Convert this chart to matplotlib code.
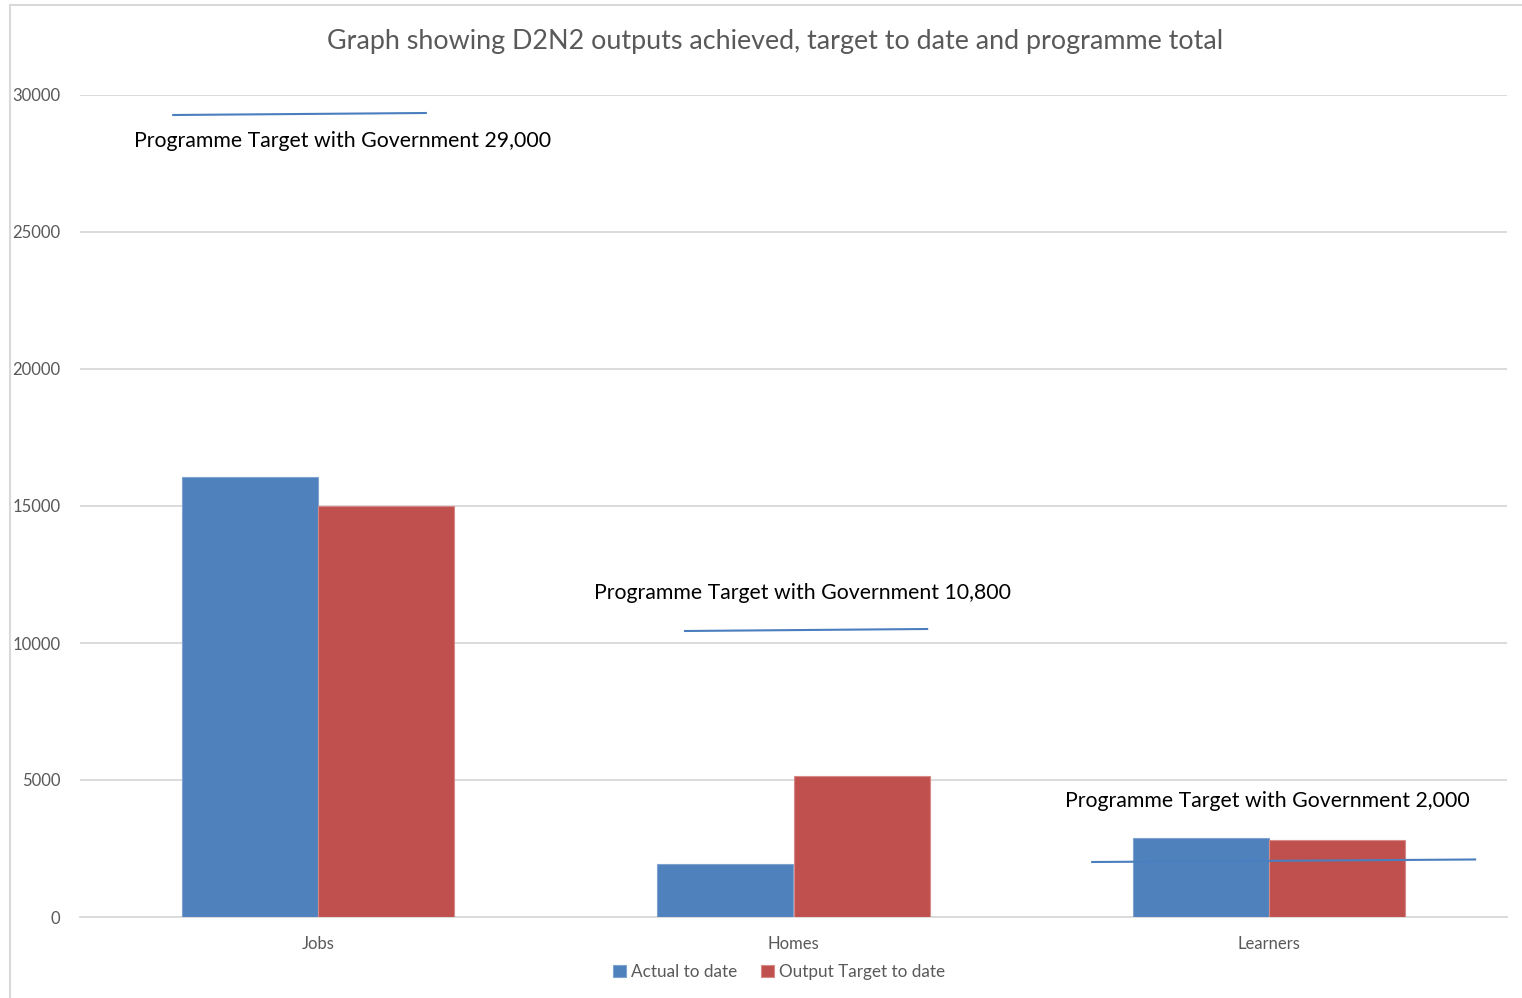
import matplotlib
matplotlib.use("Agg")
import matplotlib.pyplot as plt
from matplotlib.patches import Rectangle
import numpy as np

categories = ["Jobs", "Homes", "Learners"]
actual_to_date = [16050, 1950, 2870]
output_target_to_date = [15000, 5150, 2820]
programme_targets = [29000, 10800, 2000]
target_labels = ["Programme Target with Government 29,000",
                 "Programme Target with Government 10,800",
                 "Programme Target with Government 2,000"]
# drawn target lines (as placed on the chart): start/end values, x offsets from category centre
target_line_y = [(29270, 29343), (10438, 10511), (2007, 2099)]
target_line_dx = [(-0.304, 0.227), (-0.228, 0.281), (-0.372, 0.433)]
target_text_pos = [(-0.386, 28320), (-0.419, 11825), (-0.429, 4234)]
yticks = [0, 5000, 10000, 15000, 20000, 25000, 30000]

plt.rcParams['font.family'] = ['Lato', 'DejaVu Sans']
W, H = 1522, 998
fig = plt.figure(figsize=(W/100, H/100), dpi=100)
ax = fig.add_axes([80/W, (H-917)/H, (1507-80)/W, (917-95)/H])

x = np.arange(len(categories))
bw = 0.286
blue = "#4F81BD"
red = "#C0504D"
ax.bar(x - bw/2, actual_to_date, bw, color=blue, edgecolor="#7fa3cf", linewidth=0.8,
       label="Actual to date", zorder=3)
ax.bar(x + bw/2, output_target_to_date, bw, color=red, edgecolor="#d58a88", linewidth=0.8,
       label="Output Target to date", zorder=3)

for i, ((x0, x1), (y0, y1), (tx, ty), lab) in enumerate(zip(target_line_dx, target_line_y,
                                                           target_text_pos, target_labels)):
    ax.plot([i + x0, i + x1], [y0, y1], color="#4a7ebf", lw=1.5, zorder=4)
    ax.text(i + tx, ty, lab, fontsize=15.3, color="black", va="center", ha="left", zorder=5)

ax.set_xlim(-0.5, 2.5)
ax.set_ylim(0, 30000)
ax.set_yticks(yticks)
ax.set_yticklabels([str(v) for v in yticks])
ax.set_xticks(x)
ax.set_xticklabels(categories)
ax.grid(axis="y", color="#d9d9d9", lw=1.3, zorder=0)
ax.set_axisbelow(True)
for s in ["top", "right", "left"]:
    ax.spines[s].set_visible(False)
ax.spines["bottom"].set_color("#d9d9d9")
ax.spines["bottom"].set_linewidth(1.3)
ax.tick_params(axis="both", length=0, colors="#595959", labelsize=12)
ax.tick_params(axis="y", pad=14)
ax.tick_params(axis="x", pad=14)

fig.text(775/W, 1 - 42/H, "Graph showing D2N2 outputs achieved, target to date and programme total",
         ha="center", va="center", fontsize=19.4, color="#595959")

leg = fig.legend(loc="center", bbox_to_anchor=(779/W, 1 - 972/H), ncol=2, frameon=False,
                 fontsize=12.3, handlelength=0.75, handleheight=0.75, handletextpad=0.3,
                 columnspacing=1.4)
for t in leg.get_texts():
    t.set_color("#595959")

fig.patches.append(Rectangle((10/W, -0.05), (W+20)/W, 1 - 5/H + 0.05, transform=fig.transFigure,
                             fill=False, edgecolor="#d9d9d9", lw=1.5))

fig.savefig("out.png", dpi=100)
